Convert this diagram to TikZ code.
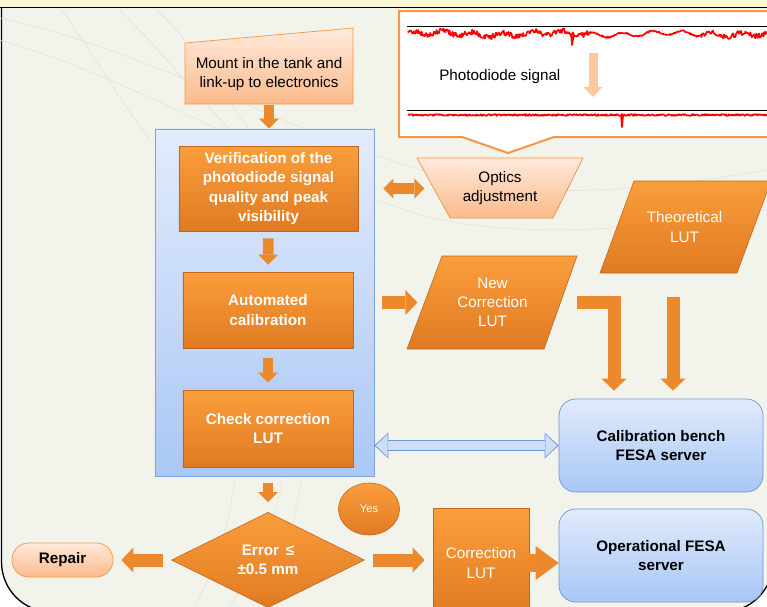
\documentclass[tikz,border=0pt]{standalone}
\usepackage{fontspec}
\setmainfont{Liberation Sans}
\usepackage{xcolor}
\usepackage{tikz}
\usetikzlibrary{shapes.geometric,arrows.meta,calc}
\definecolor{bgcolor}{RGB}{242,243,235}
\definecolor{stripyellow}{RGB}{251,247,212}
\definecolor{bgline}{RGB}{217,228,210}
\definecolor{orangetop}{RGB}{250,158,60}
\definecolor{orangebottom}{RGB}{224,122,34}
\definecolor{orangeedge}{RGB}{192,102,32}
\definecolor{peachtop}{RGB}{255,234,220}
\definecolor{peachbottom}{RGB}{251,186,138}
\definecolor{peachedge}{RGB}{247,150,70}
\definecolor{pdarrowcolor}{RGB}{251,200,160}
\definecolor{containertop}{RGB}{226,236,251}
\definecolor{containerbottom}{RGB}{170,199,246}
\definecolor{containeredge}{RGB}{125,164,219}
\definecolor{bluetop}{RGB}{224,235,252}
\definecolor{bluebottom}{RGB}{168,198,245}
\definecolor{blueedge}{RGB}{111,151,211}
\definecolor{bluefill}{RGB}{205,222,249}
\definecolor{arrowcolor}{RGB}{236,137,45}
\tikzset{
  orangebox/.style={draw=orangeedge, line width=0.5pt, top color=orangetop, bottom color=orangebottom, text=white, align=center, inner sep=1pt},
  orangefill/.style={draw=orangeedge, line width=0.5pt, top color=orangetop, bottom color=orangebottom},
  peachbox/.style={draw=peachedge, line width=0.6pt, top color=peachtop, bottom color=peachbottom, align=center},
  peachfill/.style={draw=peachedge, line width=0.6pt, top color=peachtop, bottom color=peachbottom},
  container/.style={draw=containeredge, line width=0.6pt, top color=containertop, bottom color=containerbottom},
  bluebox/.style={draw=blueedge, line width=0.6pt, top color=bluetop, bottom color=bluebottom, rounded corners=0.5cm, align=center, font=\bfseries},
  textonly/.style={align=center, inner sep=0pt},
  signal/.style={red, line width=0.05cm, line join=round},
  fatarrow/.style={arrowcolor, line width=0.32cm, >={Triangle[width=0.6cm,length=0.3cm,line width=0pt]}},
  widearrow/.style={arrowcolor, line width=0.39cm, >={Triangle[width=0.75cm,length=0.36cm,line width=0pt]}},
  bigarrow/.style={arrowcolor, line width=0.54cm, >={Triangle[width=1.02cm,length=0.69cm,line width=0pt]}},
  pdarrow/.style={pdarrowcolor, line width=0.27cm, >={Triangle[width=0.57cm,length=0.3cm,line width=0pt]}},
  bluearrow/.style={blueedge, line width=0.33cm, >={Triangle[width=0.78cm,length=0.42cm,line width=0pt]}},
  bluearrowin/.style={bluefill, line width=0.27cm, >={Triangle[width=0.68cm,length=0.35cm,line width=0pt]}},
}
\begin{document}
\fontsize{13}{16.4}\selectfont
\begin{tikzpicture}[x=0.03cm, y=-0.03cm]
\useasboundingbox (0,0) rectangle (767,606);
\clip (0,0) rectangle (767,606);
\fill[white] (0,0) rectangle (767,606);
\draw[fill=bgcolor, line width=0.04cm, rounded corners=1.5cm] (1.5,-100) rectangle (773,612);
\draw[bgline] (0,18) .. controls (150,50) and (300,140) .. (450,178) .. controls (550,200) and (650,190) .. (767,170);
\draw[bgline] (0,40) .. controls (140,80) and (280,170) .. (420,215) .. controls (520,240) and (640,230) .. (767,210);
\draw[bgline] (62,10) .. controls (90,50) and (120,100) .. (150,140);
\draw[bgline] (120,10) .. controls (160,50) and (200,100) .. (240,140);
\draw[bgline] (157,10) .. controls (190,40) and (220,90) .. (250,130);
\draw[bgline] (195,606) .. controls (220,560) and (230,520) .. (235,476);
\draw[bgline] (230,606) .. controls (260,560) and (275,520) .. (283,476);
\draw[bgline] (268,606) .. controls (285,560) and (295,520) .. (302,476);
\fill[stripyellow] (0,0) rectangle (767,7);
\draw[line width=0.05cm] (0,7.5) -- (767,7.5);

\draw[draw=peachedge, line width=0.06cm, fill=white] (399,11) -- (785,11) -- (785,137) -- (554,137) -- (508,153) -- (462,137) -- (399,137) -- cycle;
\draw[line width=0.03cm] (407,26) -- (767,26);
\draw[line width=0.03cm] (407,110) -- (767,110);
\pgfmathsetseed{11}
\draw[signal] plot[domain=408:767, samples=500] (\x, {34+2.2*sin(12*\x)+1.2*sin(3.1*\x)+(2.6-1.9*(\x>590)*(\x<700))*rand});
\draw[signal] (571,34) -- (572,45) -- (573.5,36);
\draw[signal] plot[domain=408:767, samples=500] (\x, {115+0.9*rand});
\draw[signal] (621,115) -- (622,127) -- (623,116);
\node[anchor=west] (pdlabel) at (434,77) {Photodiode signal};
\coordinate (sigtop) at (593,53);
\coordinate (sigbot) at (593,97);
\draw[pdarrow, ->] (sigtop) -- (sigbot);

\path[peachfill] (185,104) -- (353,104) -- (353,28) -- (185,43) -- cycle;
\node[textonly, minimum width=5.04cm, minimum height=1.83cm] (mount) at (269,74) {Mount in the tank and\\link-up to electronics};

\node[container, minimum width=6.57cm, minimum height=10.41cm] (cont) at (264.5,302.5) {};
\node[orangebox, font=\bfseries, minimum width=5.37cm, minimum height=2.55cm] (verif) at (268.5,188.5) {Verification of the\\photodiode signal\\quality and peak\\visibility};
\node[orangebox, font=\bfseries, minimum width=5.1cm, minimum height=2.28cm] (auto) at (268,310) {Automated\\calibration};
\node[orangebox, font=\bfseries, minimum width=5.1cm, minimum height=2.31cm] (check) at (268,428.5) {Check correction\\LUT};
\node[orangebox, font=\bfseries, diamond, minimum width=5.79cm, minimum height=1.98cm] (diam) at (268,560) {Error \,≤\\±0.5 mm};
\node[peachbox, font=\bfseries, rounded corners=0.5cm, minimum width=3.03cm, minimum height=1.02cm] (repair) at (62.5,560) {Repair};
\node[orangebox, ellipse, font=\fontsize{9.5}{11}\selectfont, minimum width=1.83cm, minimum height=1.56cm] (yes) at (369,509) {Yes};
\node[orangebox, minimum width=2.88cm, minimum height=3.3cm] (corr) at (481,563) {Correction\\LUT};
\node[bluebox, minimum width=6.12cm, minimum height=2.79cm] (calbench) at (661,445.5) {Calibration bench\\FESA server};
\node[bluebox, minimum width=6.12cm, minimum height=2.79cm] (opfesa) at (661,555.5) {Operational FESA\\server};

\path[peachfill] (417,158) -- (583,158) -- (553,218) -- (450,218) -- cycle;
\node[textonly, minimum width=4.04cm, minimum height=1.8cm] (optics) at (500,188) {Optics\\adjustment};
\path[orangefill] (634,181) -- (771,181) -- (737,273) -- (600,273) -- cycle;
\node[textonly, text=white, minimum width=3.99cm, minimum height=2.76cm] (theo) at (684.5,227) {Theoretical\\LUT};
\path[orangefill] (442,256) -- (577,256) -- (544,349) -- (407,349) -- cycle;
\node[textonly, text=white, minimum width=4.05cm, minimum height=2.79cm] (newcorr) at (492.5,302.5) {New\\Correction\\LUT};

\draw[fatarrow, ->] (mount.south) -- (mount.south |- cont.north);
\draw[fatarrow, ->, shorten <=0.21cm, shorten >=0.21cm] (verif) -- (auto);
\draw[fatarrow, ->, shorten <=0.3cm, shorten >=0.21cm] (auto) -- (check);
\draw[fatarrow, ->, shorten <=0.48cm, shorten >=0.3cm] (check) -- (diam);
\draw[fatarrow, <->, shorten <=0.75cm, shorten >=0.24cm] (verif.east) -- (verif.east -| optics.west);
\draw[widearrow, ->, shorten <=0.87cm, shorten >=0.22cm] (auto.east |- newcorr.west) -- (newcorr.west);
\draw[widearrow, ->, shorten <=0.25cm, shorten >=0.24cm] (diam.west) -- (repair.east);
\draw[widearrow, ->, shorten <=0.25cm, shorten >=0.24cm] (diam.east) -- (diam.east -| corr.west);
\draw[bigarrow, ->] (corr.east) -- (corr.east -| opfesa.west);
\draw[widearrow, ->] ($(newcorr.east)+(17,0)$) -| ($(calbench.north)+(-47,-8)$);
\draw[widearrow, ->] ($(theo.south)+(-11.5,24)$) -- ($(calbench.north)+(12,-8)$);
\draw[bluearrow, <->] (cont.east |- calbench.west) -- (calbench.west);
\draw[bluearrowin, <->, shorten <=0.045cm, shorten >=0.045cm] (cont.east |- calbench.west) -- (calbench.west);
\end{tikzpicture}
\end{document}
